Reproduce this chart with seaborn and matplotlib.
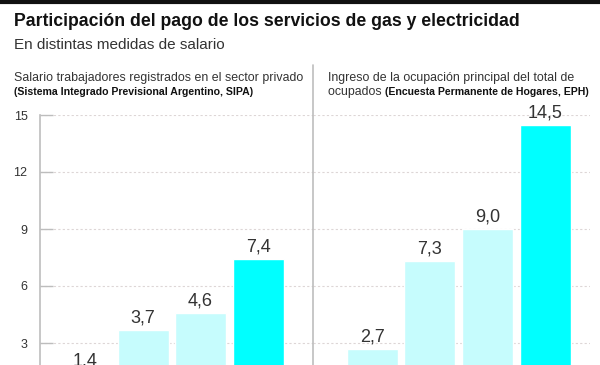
import matplotlib
matplotlib.use("Agg")
import matplotlib.pyplot as plt
from matplotlib.lines import Line2D
import seaborn as sns
import pandas as pd

# Data
categories = ["A", "B", "C", "D"]
sipa_values = [1.4, 3.7, 4.6, 7.4]
eph_values = [2.7, 7.3, 9.0, 14.5]
bar_colors = ["#c6fcfd", "#c6fcfd", "#c6fcfd", "#00ffff"]
yticks = [3, 6, 9, 12, 15]

title = "Participación del pago de los servicios de gas y electricidad"
subtitle = "En distintas medidas de salario"
left_sub1 = "Salario trabajadores registrados en el sector privado"
left_sub2 = "(Sistema Integrado Previsional Argentino, SIPA)"
right_sub1 = "Ingreso de la ocupación principal del total de"
right_sub2a = "ocupados "
right_sub2b = "(Encuesta Permanente de Hogares, EPH)"

sns.set_theme(style="white")
plt.rcParams["font.family"] = ["Liberation Sans", "DejaVu Sans"]

W, H = 600, 365
fig = plt.figure(figsize=(6, 3.65), dpi=100)

def fx(px):
    return px / W

def fy(py):
    return 1 - py / H

# axes pixel geometry: y value v at pixel 400 - 19 v
ax_top_px = 115
ax_bot_px = 365
ylim = ((400 - ax_bot_px) / 19, (400 - ax_top_px) / 19)

pitch = 57.5
axL = fig.add_axes([fx(40), fy(ax_bot_px), fx(313 - 40), (ax_bot_px - ax_top_px) / H])
axR = fig.add_axes([fx(313), fy(ax_bot_px), fx(590 - 313), (ax_bot_px - ax_top_px) / H])

txt_color = "#333333"
for ax, vals, c0, x0, x1 in [(axL, sipa_values, 85.5, 40, 313), (axR, eph_values, 372.5, 313, 590)]:
    df = pd.DataFrame({"cat": categories, "val": vals})
    sns.barplot(data=df, x="cat", y="val", hue="cat", palette=bar_colors,
                legend=False, width=51 / pitch, ax=ax, saturation=1)
    ax.set_xlim((x0 - c0) / pitch, (x1 - c0) / pitch)
    ax.set_ylim(*ylim)
    ax.set_yticks(yticks)
    ax.yaxis.grid(True, linestyle=(0, (2, 2)), color="#ddd6d6", linewidth=0.8)
    ax.set_axisbelow(True)
    ax.set_xlabel("")
    ax.set_ylabel("")
    ax.set_xticks([])
    for s in ["top", "right", "bottom"]:
        ax.spines[s].set_visible(False)
    ax.spines["left"].set_color("#bdbdbd")
    ax.spines["left"].set_linewidth(1.2)
    ax.patch.set_alpha(0)
    for i, v in enumerate(vals):
        ax.annotate(f"{v:.1f}".replace(".", ","), xy=(i, v), xytext=(0, 2.5),
                    textcoords="offset points", ha="center", va="bottom",
                    fontsize=13, color=txt_color, annotation_clip=False)

axL.tick_params(axis="y", direction="in", length=9.5, color="#bdbdbd", width=1,
                labelsize=9, labelcolor=txt_color, pad=9, left=True)
axR.tick_params(axis="y", left=False, labelleft=False)
axR.spines["left"].set_visible(False)

# divider line extending upward
fig.add_artist(Line2D([fx(313), fx(313)], [fy(365), fy(65)], color="#bdbdbd", linewidth=1.2))

# top black band
fig.add_artist(Line2D([0, 1], [fy(1.5), fy(1.5)], color="#111111", linewidth=3))

fig.text(fx(14), fy(21), title, fontsize=12.7, fontweight="bold", color="#111111", va="center")
fig.text(fx(14), fy(45), subtitle, fontsize=11, color=txt_color, va="center")

fig.text(fx(14), fy(78), left_sub1, fontsize=8.9, color=txt_color, va="center")
fig.text(fx(14), fy(92), left_sub2, fontsize=7.6, color="#111111", va="center", fontweight="bold")

fig.text(fx(328), fy(78), right_sub1, fontsize=8.9, color=txt_color, va="center")
t = fig.text(fx(328), fy(92), right_sub2a, fontsize=8.9, color=txt_color, va="center")
fig.canvas.draw()
bb = t.get_window_extent()
fig.text(bb.x1 / W, fy(92), right_sub2b, fontsize=7.6, color="#111111", va="center", fontweight="bold")

fig.savefig("out.png", dpi=100)
